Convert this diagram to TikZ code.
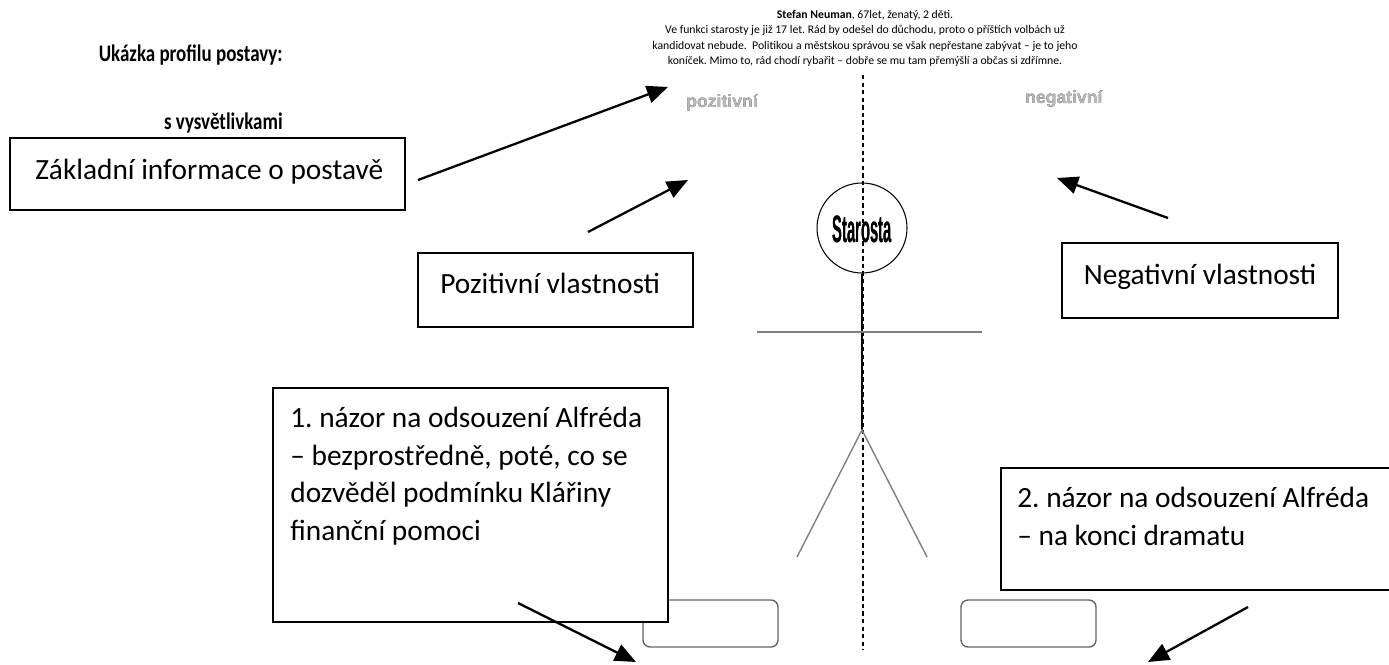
\documentclass[tikz,border=0pt]{standalone}
\usepackage{fontspec}
\setmainfont{Carlito}
\newfontfamily\headfont{Liberation Sans}
\usepackage[outline]{contour}
\usetikzlibrary{arrows.meta}
\frenchspacing
\tikzset{
  infobox/.style={draw, line width=1.1pt, fill=white, inner sep=0pt},
  bigtext/.style={font=\fontsize{16.7}{21.4}\selectfont, align=left, anchor=north west, inner sep=0pt},
  pointer/.style={line width=1.3pt, -{Triangle[length=12pt,width=10pt]}},
  slot/.style={draw=gray!80!black, line width=0.8pt, rounded corners=4pt, minimum width=2.7cm, minimum height=0.94cm, inner sep=0pt},
  limb/.style={draw=gray, line width=0.8pt},
  tag/.style={font=\headfont\bfseries\fontsize{10}{11}\selectfont, inner sep=0pt},
  titletext/.style={anchor=east, font=\bfseries\fontsize{13.5}{15}\selectfont, inner sep=0pt}
}
\begin{document}
\begin{tikzpicture}[x=0.02cm,y=-0.02cm]
\useasboundingbox (0,0) rectangle (1389,665);
% title
\node[titletext] (title1) at (283,55) {\scalebox{0.8}[1]{Ukázka profilu postavy:}};
\node[titletext] (title2) at (283,123) {\scalebox{0.8}[1]{s vysvětlivkami}};
% top info text
\node[font=\fontsize{6.67}{8.8}\selectfont, align=center, anchor=north, inner sep=0pt] (info) at (865,10)
 {\textbf{Stefan Neuman}, 67let, ženatý, 2 děti.\\
 Ve funkci starosty je již 17 let. Rád by odešel do důchodu, proto o příštích volbách už\\
 kandidovat nebude.\ \ Politikou a městskou správou se však nepřestane zabývat – je to jeho\\
 koníček. Mimo to, rád chodí rybařit – dobře se mu tam přemýšlí a občas si zdřímne.};
% dashed axis
\coordinate (axtop) at (863,75);
\coordinate (axbot) at (863,650);
\draw[line width=0.6pt, dash pattern=on 2.5pt off 1.8pt] (axtop) -- (axbot);
% tags
\contourlength{0.45pt}
\node[tag] (pos) at (722,103) {\contour{black!85}{\textcolor{gray!55}{pozitivní}}};
\node[tag] (neg) at (1064,99) {\contour{black!85}{\textcolor{gray!55}{negativní}}};
% stick figure
\node[draw, circle, line width=0.6pt, inner sep=0pt, minimum size=1.8cm] (head) at (862,228) {};
\contourlength{0.65pt}
\node[font=\headfont\bfseries\fontsize{14}{15}\selectfont, inner sep=0pt] (name) at (862,229) {\scalebox{0.6}[1.55]{\contour{black}{Starosta}}};
\coordinate (hip) at (862,430);
\coordinate (armL) at (757,332);
\coordinate (armR) at (982,332);
\coordinate (footL) at (797,557);
\coordinate (footR) at (927,557);
\draw[line width=0.7pt] (head.south) -- (hip);
\draw[limb] (armL) -- (armR);
\draw[limb] (footL) -- (hip) -- (footR);
% slots
\node[slot] (slotL) at (710.5,623.5) {};
\node[slot] (slotR) at (1028.5,623.5) {};
% box 1 basic info
\node[infobox, minimum width=7.9cm, minimum height=1.44cm] (basic) at (207.5,174) {};
\node[bigtext, anchor=west] (basictext) at (35,172) {Základní informace o postavě};
\coordinate (a1s) at (418,180);
\coordinate (a1e) at (668,87);
\draw[pointer] (a1s) -- (a1e);
% positive
\node[infobox, minimum width=5.5cm, minimum height=1.48cm] (posbox) at (555.5,290) {};
\node[bigtext, anchor=west] (postext) at (440,283) {Pozitivní vlastnosti};
\coordinate (a2s) at (588,232);
\coordinate (a2e) at (688,180);
\draw[pointer] (a2s) -- (a2e);
% negative
\node[infobox, minimum width=5.52cm, minimum height=1.5cm] (negbox) at (1200,280.5) {};
\node[bigtext, anchor=center] (negtext) at (1200,277) {Negativní vlastnosti};
\coordinate (a3s) at (1168,218);
\coordinate (a3e) at (1057,178);
\draw[pointer] (a3s) -- (a3e);
% opinion 1
\node[infobox, minimum width=7.9cm, minimum height=4.68cm] (op1) at (470.5,505) {};
\node[bigtext] (op1text) at (290,407) {1. názor na odsouzení Alfréda\\– bezprostředně, poté, co se\\dozvěděl podmínku Klářiny\\finanční pomoci};
\coordinate (a4s) at (518,603);
\coordinate (a4e) at (636,662);
\draw[pointer] (a4s) -- (a4e);
% opinion 2
\node[infobox, minimum width=8cm, minimum height=2.44cm] (op2) at (1201,529) {};
\node[bigtext] (op2text) at (1017,487) {2. názor na odsouzení Alfréda\\– na konci dramatu};
\coordinate (a5s) at (1248,607);
\coordinate (a5e) at (1148,662);
\draw[pointer] (a5s) -- (a5e);
\end{tikzpicture}
\end{document}
